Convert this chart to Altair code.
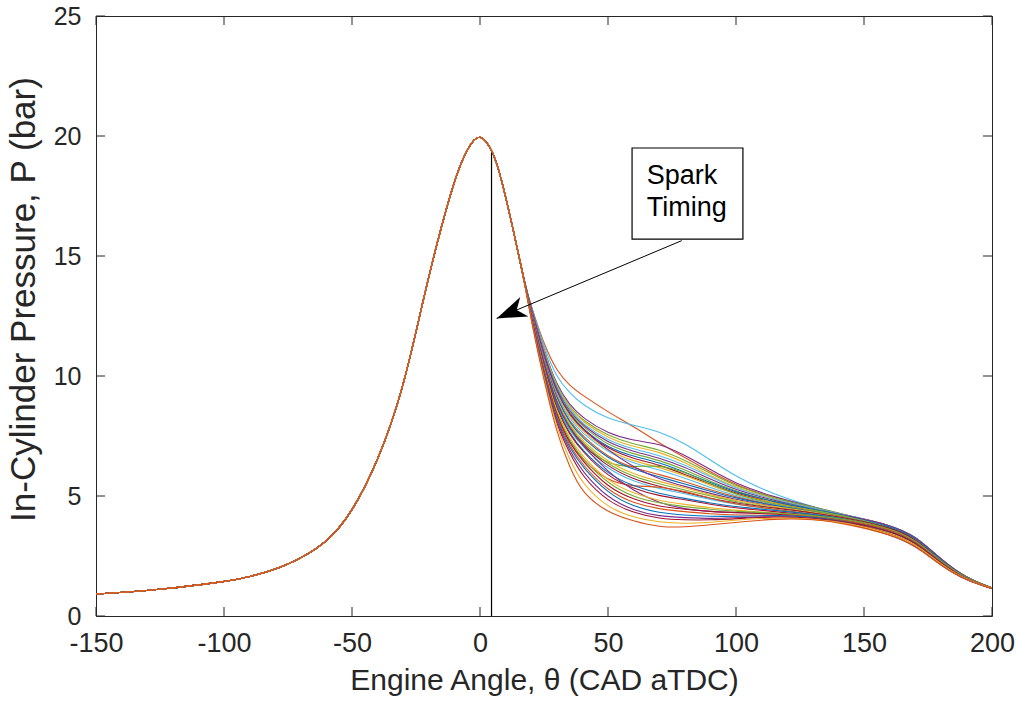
import math
import altair as alt
import pandas as pd

# ---------------- data ----------------
common_theta = [-150, -140, -125, -100, -90, -75, -60, -50, -40, -30, -22, -15, -9, -5, -2, 0, 2, 5, 8, 13, 18]
common_p = [0.92, 0.98, 1.10, 1.42, 1.62, 2.10, 3.00, 4.30, 6.40, 9.40, 13.30, 16.30, 18.50, 19.45, 19.90, 19.98, 19.85, 19.35, 18.40, 16.10, 13.60]

cycle_theta = [20, 25, 30, 35, 40, 50, 60, 70, 80, 90, 100, 115, 130, 145, 160, 170, 180, 190, 200]
cycle_p = [
    [12.30, 9.80, 7.60, 6.20, 5.10, 4.30, 3.95, 3.70, 3.70, 3.80, 3.90, 4.05, 4.05, 3.80, 3.40, 2.95, 2.10, 1.48, 1.15],
    [12.30, 9.90, 7.80, 6.50, 5.50, 4.50, 4.10, 3.90, 3.85, 3.90, 4.00, 4.10, 4.05, 3.85, 3.45, 3.00, 2.15, 1.50, 1.16],
    [12.35, 9.90, 7.90, 6.80, 5.80, 4.75, 4.30, 4.05, 4.00, 4.00, 4.05, 4.15, 4.10, 3.90, 3.55, 3.10, 2.20, 1.50, 1.15],
    [12.40, 10.00, 8.00, 6.90, 6.00, 4.90, 4.40, 4.15, 4.10, 4.05, 4.10, 4.15, 4.10, 3.85, 3.40, 2.95, 2.10, 1.48, 1.15],
    [12.40, 10.05, 8.10, 7.00, 6.20, 5.10, 4.55, 4.30, 4.20, 4.15, 4.15, 4.20, 4.15, 3.90, 3.55, 3.10, 2.20, 1.52, 1.16],
    [12.45, 10.10, 8.20, 7.10, 6.30, 5.20, 4.70, 4.45, 4.35, 4.25, 4.20, 4.20, 4.15, 3.95, 3.60, 3.15, 2.20, 1.50, 1.14],
    [12.45, 10.15, 8.30, 7.20, 6.45, 5.35, 4.85, 4.55, 4.45, 4.35, 4.30, 4.25, 4.15, 3.90, 3.45, 3.00, 2.10, 1.47, 1.15],
    [12.50, 10.20, 8.35, 7.30, 6.55, 5.50, 4.95, 4.70, 4.55, 4.45, 4.35, 4.30, 4.20, 4.00, 3.65, 3.20, 2.25, 1.55, 1.17],
    [12.50, 10.25, 8.45, 7.40, 6.65, 5.60, 5.10, 4.80, 4.65, 4.50, 4.40, 4.30, 4.15, 3.90, 3.50, 3.05, 2.15, 1.50, 1.15],
    [12.60, 10.50, 8.80, 7.80, 7.10, 6.00, 5.20, 4.70, 4.45, 4.35, 4.30, 4.30, 4.20, 3.95, 3.60, 3.15, 2.25, 1.55, 1.16],
    [12.55, 10.35, 8.55, 7.55, 6.85, 5.80, 5.30, 5.00, 4.85, 4.65, 4.50, 4.35, 4.20, 3.95, 3.55, 3.10, 2.15, 1.50, 1.15],
    [12.55, 10.40, 8.65, 7.60, 6.90, 5.90, 5.40, 5.10, 4.90, 4.70, 4.55, 4.40, 4.25, 4.00, 3.60, 3.15, 2.20, 1.52, 1.15],
    [12.45, 10.10, 8.20, 7.20, 6.50, 5.60, 5.40, 5.40, 5.20, 4.90, 4.65, 4.45, 4.25, 4.00, 3.65, 3.20, 2.25, 1.55, 1.16],
    [12.60, 10.50, 8.75, 7.75, 7.05, 6.10, 5.60, 5.30, 5.10, 4.85, 4.65, 4.45, 4.25, 3.95, 3.50, 3.05, 2.15, 1.50, 1.14],
    [12.60, 10.50, 8.80, 7.80, 7.15, 6.20, 5.70, 5.40, 5.15, 4.90, 4.70, 4.50, 4.30, 4.05, 3.70, 3.25, 2.25, 1.55, 1.16],
    [12.65, 10.55, 8.85, 7.90, 7.20, 6.30, 5.80, 5.50, 5.25, 5.00, 4.75, 4.50, 4.30, 4.00, 3.60, 3.15, 2.20, 1.52, 1.15],
    [12.65, 10.60, 8.90, 7.95, 7.30, 6.40, 5.90, 5.60, 5.35, 5.05, 4.80, 4.55, 4.35, 4.05, 3.65, 3.20, 2.25, 1.55, 1.16],
    [12.80, 10.85, 9.30, 8.40, 7.80, 6.90, 6.20, 5.70, 5.40, 5.10, 4.85, 4.55, 4.30, 4.00, 3.55, 3.10, 2.15, 1.50, 1.15],
    [12.70, 10.65, 9.00, 8.05, 7.40, 6.55, 6.10, 5.80, 5.50, 5.20, 4.90, 4.60, 4.35, 4.05, 3.70, 3.25, 2.25, 1.55, 1.16],
    [12.70, 10.70, 9.05, 8.10, 7.50, 6.60, 6.15, 5.90, 5.60, 5.25, 4.95, 4.60, 4.35, 4.05, 3.60, 3.15, 2.20, 1.52, 1.15],
    [12.60, 10.45, 8.70, 7.70, 7.05, 6.30, 6.20, 6.30, 6.00, 5.50, 5.05, 4.65, 4.40, 4.10, 3.70, 3.25, 2.25, 1.55, 1.16],
    [12.75, 10.75, 9.15, 8.20, 7.60, 6.80, 6.35, 6.10, 5.75, 5.35, 5.00, 4.65, 4.35, 4.05, 3.65, 3.20, 2.20, 1.52, 1.15],
    [12.75, 10.80, 9.20, 8.30, 7.70, 6.85, 6.45, 6.20, 5.85, 5.45, 5.05, 4.70, 4.40, 4.10, 3.70, 3.25, 2.25, 1.55, 1.16],
    [12.80, 10.80, 9.25, 8.35, 7.75, 6.95, 6.55, 6.30, 5.90, 5.50, 5.10, 4.70, 4.40, 4.05, 3.65, 3.20, 2.20, 1.52, 1.15],
    [12.80, 10.85, 9.30, 8.40, 7.80, 7.00, 6.65, 6.40, 6.00, 5.55, 5.15, 4.75, 4.45, 4.10, 3.75, 3.30, 2.30, 1.57, 1.17],
    [12.80, 10.90, 9.35, 8.45, 7.90, 7.10, 6.75, 6.50, 6.10, 5.60, 5.20, 4.75, 4.45, 4.10, 3.70, 3.25, 2.25, 1.55, 1.16],
    [12.85, 10.90, 9.40, 8.50, 7.95, 7.20, 6.85, 6.60, 6.20, 5.70, 5.25, 4.80, 4.45, 4.15, 3.80, 3.35, 2.35, 1.57, 1.17],
    [12.85, 10.95, 9.45, 8.60, 8.00, 7.30, 6.95, 6.70, 6.30, 5.80, 5.30, 4.85, 4.50, 4.15, 3.80, 3.30, 2.30, 1.56, 1.16],
    [12.85, 11.00, 9.50, 8.65, 8.10, 7.40, 7.05, 6.85, 6.40, 5.85, 5.35, 4.85, 4.50, 4.10, 3.70, 3.25, 2.25, 1.55, 1.15],
    [12.90, 11.00, 9.55, 8.70, 8.15, 7.50, 7.15, 6.95, 6.50, 5.95, 5.40, 4.90, 4.55, 4.15, 3.80, 3.35, 2.35, 1.57, 1.17],
    [12.90, 11.05, 9.60, 8.80, 8.25, 7.60, 7.30, 7.20, 6.70, 6.10, 5.50, 4.95, 4.55, 4.15, 3.80, 3.35, 2.35, 1.57, 1.17],
    [12.95, 11.20, 9.90, 9.30, 8.80, 8.20, 7.95, 7.70, 7.20, 6.50, 5.80, 5.05, 4.55, 4.10, 3.70, 3.25, 2.25, 1.55, 1.16],
    [12.90, 11.30, 10.20, 9.60, 9.20, 8.50, 7.90, 7.20, 6.60, 6.00, 5.45, 4.90, 4.50, 4.15, 3.80, 3.35, 2.35, 1.57, 1.17],
]
cycle_colors = [
    "#D95319", "#EDB120", "#A2142F", "#7E2F8E", "#0072BD", "#D95319", "#A2142F",
    "#77AC30", "#EDB120", "#7E2F8E", "#A2142F", "#0072BD", "#D95319", "#4DBEEE",
    "#A2142F", "#77AC30", "#EDB120", "#7E2F8E", "#0072BD", "#D95319", "#77AC30",
    "#4DBEEE", "#EDB120", "#A2142F", "#0072BD", "#77AC30", "#7E2F8E", "#4DBEEE",
    "#EDB120", "#77AC30", "#7E2F8E", "#4DBEEE", "#D95319",
]

x_ticks = [-150, -100, -50, 0, 50, 100, 150, 200]
y_ticks = [0, 5, 10, 15, 20, 25]

spark_theta = 4.5
spark_top = 19.3
arrow_from = (78.8, 15.64)
arrow_tip = (6.5, 12.4)
box_theta = [59.4, 102.7]
box_p = [15.7, 19.5]
label_lines = ["Spark", "Timing"]
label_theta = 65.1
label_p = [18.0, 16.67]

# ---------------- build tables ----------------
W, H = 896, 600
XD = [-150, 200]
YD = [0, 25]

rows = []
n = len(cycle_p)
ids, cols = [], []
for k, i in enumerate(reversed(range(n))):
    cid = f"c{k:02d}"
    ids.append(cid)
    cols.append(cycle_colors[i])
    for t, p in zip(common_theta, common_p):
        rows.append({"cycle": cid, "theta": t, "P": p})
    for t, p in zip(cycle_theta, cycle_p[i]):
        rows.append({"cycle": cid, "theta": t, "P": p})
df = pd.DataFrame(rows)

xs = alt.Scale(domain=XD, nice=False, zero=False)
ys = alt.Scale(domain=YD, nice=False, zero=False)

FONT = "Liberation Sans"
INK = "#262626"

lines = alt.Chart(df).mark_line(strokeWidth=1.1, interpolate="basis", clip=True).encode(
    x=alt.X("theta:Q", scale=xs, axis=alt.Axis(values=x_ticks, title="Engine Angle, θ (CAD aTDC)",
                                                  labelFlush=False, labelOverlap=False,
                                                  labelExpr="'' + datum.value",
                                                  labelPadding=14, titlePadding=9)),
    y=alt.Y("P:Q", scale=ys, axis=alt.Axis(values=y_ticks, title="In-Cylinder Pressure, P (bar)",
                                             labelFlush=False, labelOverlap=False,
                                             labelPadding=15, titlePadding=12,
                                             titleFontSize=35, titleY=283, labelFontSize=25)),
    color=alt.Color("cycle:N", scale=alt.Scale(domain=ids, range=cols), legend=None),
    detail="cycle:N",
)

spark = alt.Chart(pd.DataFrame({"theta": [spark_theta], "P0": [0.0], "P1": [spark_top]})).mark_rule(
    color="black", strokeWidth=1.2
).encode(x=alt.X("theta:Q", scale=xs), y=alt.Y("P0:Q", scale=ys), y2="P1:Q")

arrow_line = alt.Chart(pd.DataFrame({"x0": [arrow_from[0]], "y0": [arrow_from[1]],
                                     "x1": [arrow_tip[0]], "y1": [arrow_tip[1]]})).mark_rule(
    color="black", strokeWidth=1
).encode(x=alt.X("x0:Q", scale=xs), y=alt.Y("y0:Q", scale=ys), x2="x1:Q", y2="y1:Q")

dxp = (arrow_tip[0] - arrow_from[0]) * W / (XD[1] - XD[0])
dyp = -(arrow_tip[1] - arrow_from[1]) * H / (YD[1] - YD[0])
ang = math.degrees(math.atan2(dyp, dxp)) % 360

head = alt.Chart(pd.DataFrame({"x": [arrow_tip[0]], "y": [arrow_tip[1]]})).mark_point(
    shape="M 0 0 L -2 -0.7 L -1.45 0 L -2 0.7 Z", size=900, filled=True, color="black",
    opacity=1, angle=ang
).encode(x=alt.X("x:Q", scale=xs), y=alt.Y("y:Q", scale=ys))

box = alt.Chart(pd.DataFrame({"x0": [box_theta[0]], "x1": [box_theta[1]],
                              "y0": [box_p[0]], "y1": [box_p[1]]})).mark_rect(
    fill="white", stroke="black", strokeWidth=1.2
).encode(x=alt.X("x0:Q", scale=xs), x2="x1:Q", y=alt.Y("y0:Q", scale=ys), y2="y1:Q")

label = alt.Chart(pd.DataFrame({"t": label_lines, "x": [label_theta] * 2, "y": label_p})).mark_text(
    align="left", baseline="alphabetic", font=FONT, fontSize=27, color="black"
).encode(x=alt.X("x:Q", scale=xs), y=alt.Y("y:Q", scale=ys), text="t:N")

tl = 9
tx = pd.DataFrame({"v": x_ticks})
ty = pd.DataFrame({"v": y_ticks})
tick_bottom = alt.Chart(tx).mark_rule(color=INK, strokeWidth=1).encode(
    x=alt.X("v:Q", scale=xs), y=alt.value(H), y2=alt.value(H - tl))
tick_top = alt.Chart(tx).mark_rule(color=INK, strokeWidth=1).encode(
    x=alt.X("v:Q", scale=xs), y=alt.value(0), y2=alt.value(tl))
tick_left = alt.Chart(ty).mark_rule(color=INK, strokeWidth=1).encode(
    y=alt.Y("v:Q", scale=ys), x=alt.value(0), x2=alt.value(tl))
tick_right = alt.Chart(ty).mark_rule(color=INK, strokeWidth=1).encode(
    y=alt.Y("v:Q", scale=ys), x=alt.value(W), x2=alt.value(W - tl))

chart = alt.layer(
    lines, spark, arrow_line, head, box, label, tick_bottom, tick_top, tick_left, tick_right
).properties(
    width=W, height=H,
    autosize=alt.AutoSizeParams(type="none"),
    padding={"left": 96, "top": 16, "right": 24, "bottom": 90},
    background="white",
).configure_view(
    stroke=INK, strokeWidth=1
).configure_axis(
    domain=False, ticks=False, grid=False,
    labelFont=FONT, labelFontSize=27, labelColor=INK,
    titleFont=FONT, titleFontSize=30, titleColor=INK, titleFontWeight="normal",
)

chart.save("out.html", embed_options={"renderer": "svg", "actions": False})
